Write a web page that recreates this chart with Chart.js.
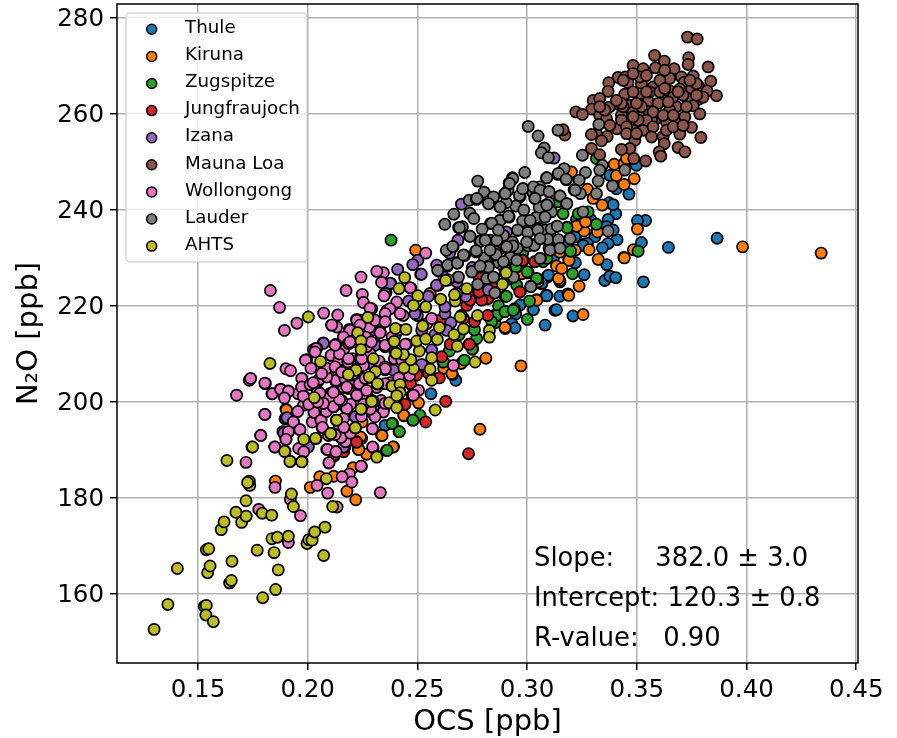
<!DOCTYPE html>
<html>
<head>
<meta charset="utf-8">
<title>OCS vs N2O</title>
<script src="https://cdn.jsdelivr.net/npm/chart.js@4"></script>
<style>
  body { margin: 0; background: #fff; }
  canvas { display: block; }
</style>
</head>
<body>
<canvas id="chart" width="897" height="738"></canvas>
<script>
// values: [OCS ppb, N2O ppb]
const thule = [[.3866,234.1],[.3644,232.2],[.353,225],[.354,237.8],[.3503,237.8],[.3521,233.2],[.3464,243.3],[.3354,225.3],[.3377,226.2],[.3404,225.9],[.3363,228.6],[.341,233.8],[.3369,233],[.3343,232.1],[.3404,239.2],[.3369,238],[.3374,241.5],[.3392,241.1],[.3088,222.2],[.3149,222],[.3096,226.2],[.3065,224.7],[.3255,232.8],[.322,234.4],[.3377,247.2],[.3407,244.4],[.3498,249.3],[.3362,236.5],[.3392,235.8],[.3309,234.4],[.3082,216],[.2968,220.2],[.3029,219.2],[.2948,218.3],[.293,216.3],[.2945,215.4],[.2675,204.5],[.2562,201.7],[.2353,195.1],[.309,226],[.309,222.2],[.3067,224.6],[.3127,219.1],[.3209,217.9],[.3186,222.5],[.315,225],[.322,229],[.326,226.5],[.3275,233],[.312,230],[.329,238],[.3225,238],[.318,233],[.3097,226.4],[.3067,224.7],[.3134,219.2],[.3089,222.1],[.3256,232.6],[.3218,234.4]];
const kiruna = [[.434,231],[.3982,232.3],[.3397,249.5],[.3442,249.7],[.3488,246.5],[.3407,247.1],[.3442,245.3],[.3342,241],[.3503,236],[.3441,230.1],[.3484,231.7],[.3319,235.6],[.326,235.6],[.3225,236.6],[.3266,237.5],[.3283,231.7],[.3324,229.7],[.319,229.5],[.3155,227.8],[.3134,228.3],[.3149,225.3],[.3237,224.1],[.319,222.2],[.3275,244.3],[.3301,242.4],[.3453,250.7],[.3202,247.9],[.2967,242.7],[.3149,231.2],[.3043,221.3],[.3255,218.2],[.2972,207.5],[.2785,194.3],[.2492,231.6],[.2812,209.1],[.29,215.3],[.266,205.7],[.2505,199.8],[.2439,197.1],[.2337,193],[.2391,190.6],[.2269,189.1],[.2231,190.1],[.2246,192.4],[.1901,198.5],[.2339,193],[.2438,197.2],[.2179,181.4],[.2219,179.6],[.2207,186.3],[.2119,184.5],[.2055,184.4],[.2012,182.2],[.1853,183.5],[.1903,198.3],[.2233,190.1],[.224,192.7],[.2389,190.6],[.2248,195.8],[.3044,221.2],[.2976,226.7],[.275,212],[.285,218],[.29,222],[.295,228],[.31,232],[.305,225],[.27,208],[.262,207],[.3143,225.7],[.3191,229.5],[.3158,227.8],[.3219,231.6],[.3181,236.4],[.2752,211],[.2558,222.6],[.2657,205.9],[.3443,230],[.3321,235.4],[.2899,215.5]];
const zugspitze = [[.238,233.7],[.3001,217.2],[.2942,219.4],[.29,218.9],[.2866,218.1],[.2854,216.5],[.277,213.2],[.2758,215.1],[.2646,210.6],[.2714,208.7],[.2616,208.3],[.2512,197.2],[.2479,196.2],[.2416,193.8],[.2387,195.5],[.236,189.9],[.3011,221],[.3048,225.6],[.3006,226.9],[.2953,224.3],[.2418,193.8],[.248,196.2],[.2362,189.9],[.2384,195.5],[.3316,237],[.3182,236.3],[.3198,231.4],[.3207,226.7],[.3043,225.7],[.3,227.1],[.3278,239.6],[.3233,239.2],[.3506,231.4],[.3164,239.2],[.3316,250.7],[.3141,241.7],[.2906,222],[.2949,228.1],[.3073,229.2],[.2829,222],[.275,211],[.287,220],[.269,214],[.312,233],[.298,231],[.306,236],[.282,225],[.291,225.5],[.2862,218],[.2839,216.7],[.276,215],[.2619,208.3],[.309,229.9],[.2899,218.8],[.2937,219.1]];
const jungfraujoch = [[.2733,189.2],[.2538,195.8],[.2629,200.1],[.2736,212],[.2968,222.9],[.2778,222.8],[.276,216.7],[.2821,221.5],[.2793,221.2],[.274,221.9],[.2467,203.8],[.2497,205.6],[.2444,199.5],[.2223,191.7],[.212,188.7],[.1897,196.5],[.2725,220.1],[.2611,209.4],[.271,217.4],[.2603,217],[.2983,229.5],[.3036,229.2],[.2223,191.6],[.2468,203.8],[.2119,188.9],[.2164,189.6],[.2967,222.9],[.2979,229.5],[.2781,222.9],[.2807,225.7],[.3035,229.2],[.265,212],[.27,218],[.278,226],[.285,225],[.29,228],[.282,218],[.255,206],[.26,205],[.268,222],[.288,232],[.2781,222.9],[.274,221.2],[.2737,212]];
const izana = [[.241,227.6],[.2502,229.5],[.2479,228.6],[.2515,226.6],[.2378,224.7],[.2357,222.8],[.2626,218.4],[.2653,216.5],[.2596,224.3],[.2588,228.5],[.2824,223.3],[.2071,212.3],[.2026,210.9],[.2307,212.2],[.252,207.8],[.2216,196.9],[.1899,196.5],[.1887,193.8],[.2003,190.6],[.217,190.6],[.2102,201.7],[.2391,206.6],[.2701,241.2],[.3123,250.8],[.2685,233.7],[.2647,231],[.2587,224.3],[.2518,226.6],[.2906,235.4],[.1906,196.7],[.1891,193.5],[.2217,196.9],[.2164,190.6],[.2103,201.7],[.2134,201],[.23,215],[.24,214],[.25,218],[.255,222],[.245,212],[.262,226],[.268,225],[.275,228],[.283,230],[.258,214],[.272,222],[.228,208],[.236,219],[.246,221],[.2626,219.8],[.2634,214.9],[.2679,222.6],[.2489,218.4],[.252,214.9],[.2565,210.8],[.2376,224.7],[.2353,222.6],[.2072,212.2],[.2307,211.8]];
const maunaLoa = [[.3731,276],[.3775,275.6],[.3581,272.2],[.3736,271.7],[.3625,271],[.3734,270.3],[.3825,269.8],[.3483,270.1],[.3529,269.4],[.3585,269.6],[.367,269.4],[.3415,267.6],[.3448,267.7],[.346,266.5],[.3372,266.5],[.3521,266.2],[.3574,265.6],[.3627,267],[.3703,267.7],[.3757,267.9],[.3716,266.6],[.3837,266.8],[.3781,265.8],[.3749,265.1],[.365,264.8],[.3369,264.7],[.3445,264.1],[.3863,263.8],[.382,264.8],[.3784,263.1],[.3731,263.2],[.362,262.8],[.3552,262.6],[.3301,262.8],[.3331,263.2],[.342,261.9],[.3468,261.8],[.3374,261.4],[.3295,261],[.3222,260.4],[.3252,259.9],[.3331,259.7],[.343,259.7],[.3544,260.6],[.3681,261.5],[.3757,261.7],[.3787,260],[.3587,259],[.3678,258.8],[.3719,259.4],[.3498,258.1],[.3362,259],[.341,256.9],[.3749,257.2],[.3172,255.6],[.3164,256.7],[.3316,255.9],[.3293,255.7],[.3365,255.3],[.3339,254.4],[.362,255.3],[.3696,255.8],[.3792,255.1],[.3491,254.5],[.3625,253.8],[.3293,252.8],[.3468,252.8],[.343,252.6],[.3688,253],[.3719,252.1],[.3602,252.1],[.3609,251.2],[.3331,251.5],[.3486,250.7],[.354,250.2],[.3514,264.2],[.3559,264.6],[.3597,262.2],[.365,260.8],[.3514,259.4],[.3567,258.7],[.3635,258.3],[.3483,260.4],[.343,258.7],[.3529,256.6],[.3635,256.6],[.3666,263.5],[.3711,263.9],[.3696,265.2],[.3605,264.6],[.3521,261.5],[.3574,260.4],[.362,259.7],[.3483,256.6],[.3438,261.5],[.3354,260.8],[.3514,267.7],[.365,267.4],[.3802,263.5],[.3772,266.3],[.3688,264.6],[.3483,264.6],
  [.343,262.2],[.3498,262.2],[.3643,262.5],[.3544,258.7],[.3453,257.3],[.3574,257.3],[.3666,257.3],[.3506,258.7],[.3605,267],[.3544,268],[.3627,269.1],[.3726,261.5],[.3772,263.9],[.3438,267],[.3483,268.4],[.3407,262.8],[.3666,259.7],[.3711,257.6],[.3331,261.5],[.3377,257.6],[.3567,255.2],[.3453,255.9],[.3627,265.3],[.3544,264.6],[.3742,267],[.3498,255.9],[.3483,259.4]];
const wollongong = [[.1676,201.4],[.1805,197.4],[.1786,193],[.1851,190.6],[.1719,187.4],[.1807,203.8],[.1734,204.5],[.1837,201.7],[.1851,182.2],[.2043,182.6],[.2091,181],[.2331,181.1],[.2245,186.6],[.219,185],[.2201,183.3],[.2157,184.4],[.2097,187.3],[.2087,190.1],[.2126,189.7],[.2298,190.5],[.1967,176.3],[.1921,179.7],[.2134,178.1],[.1777,177.6],[.1912,170.7],[.1901,192.2],[.1913,193.8],[.1964,194.2],[.1935,195.8],[.203,197.8],[.2021,195.8],[.206,196.3],[.2066,194.6],[.2152,192.6],[.2172,191.7],[.2295,194.4],[.2177,198.6],[.2119,199.1],[.2088,199],[.1956,201.7],[.1911,202.3],[.1876,202.6],[.1987,201],[.1981,199.3],[.2043,202.4],[.2119,202.1],[.2164,203],[.2198,203.3],[.2224,201.5],[.2268,202.3],[.2335,200.3],[.2347,198.6],[.1974,203.1],[.2129,204.2],[.2047,204.3],[.2476,201.4],[.1959,190.3],[.1982,189.6],
  [.2538,231],[.2345,226.9],[.2315,227.2],[.2243,226],[.2175,223.2],[.183,223.2],[.1872,219.7],[.1894,214.9],[.1951,216.4],[.2073,218.5],[.2137,218.1],[.2249,222.4],[.2337,224.9],[.2348,222.1],[.2254,220.7],[.247,223.7],[.2292,219.4],[.2109,216],[.2132,215.6],[.219,215.1],[.2223,217.2],[.2239,217],[.2281,215.5],[.233,214.6],[.2353,217],[.2406,220.8],[.2375,219.4],[.2041,211.2],[.2126,211.9],[.1995,208.8],[.1901,206.9],[.1922,206.5],[.2108,209.7],[.2143,208.5],[.2185,212.1],[.2254,207.6],[.2353,211.5],[.2353,206.7],[.1973,204.9],[.2053,204.7],[.1805,203.9],[.174,204.9],[.1839,201.7],[.1877,202.6],[.1912,202.2],[.1894,200.8],[.1973,203.1],[.198,201.2],[.2011,203.6],[.2129,204.4],[.2117,201.9],[.2198,203.3],[.2223,201.6],[.2269,202.2],[.2094,201],[.2182,205.6],[.212,199],[.2178,198.6],[.2029,197.8],[.2061,196.2],[.1935,195.8],[.1965,194.2],[.1912,193.8],[.1901,192.2],[.1805,197.4],[.1786,193],[.185,190.6],[.209,190.1],[.2129,189.6],[.2152,192.6],[.2067,194.7],[.2295,194.4],[.2296,190.6],[.2097,187.3],[.2243,186.6],[.2664,207.6],[.2505,202.4],[.2482,201.4],[.2295,200.3],[.2345,197.9],[.2353,199.7],[.2296,197.6],[.2261,201.4],
  [.2205,209],[.2235,213.5],[.2165,211],[.2075,207],[.2025,204],[.2095,205.5],[.2155,206.5],[.2205,206],[.2285,210],[.2325,208.5],[.2085,198],[.2145,195],[.2195,199.5],[.2245,197],[.2075,201],[.2005,199.5],[.1955,198],[.2275,205],[.2315,203],[.2395,209],[.2415,215],[.2435,218],[.2375,204],
  [.211,216],[.2193,214.9],[.2224,217],[.2239,216],[.2307,217],[.233,214.6],[.2284,219.5],[.2353,218.4],[.2163,213.5],[.2129,212],[.2038,211.1],[.2186,212.2],[.2269,211.5],[.199,208.7],[.2107,209.7],[.2143,208.7],[.2034,210.4],[.2183,208.3],[.2239,209],[.2353,207.3],[.2129,204.5],[.2087,205.2],[.2239,205.2],[.2353,203.8],[.2095,200.7],[.2117,199],[.2178,198.6],[.2163,196.5],[.217,204.9],[.2087,207],[.2064,205.9],[.2125,207.3],[.2186,202.8],[.2056,201.8],[.2155,200.3],[.2072,199.7],[.23,200],[.2307,196.9],[.2467,223.8],[.2421,218.4],[.2353,216.7],[.2543,216.3],[.2565,217.4],[.2353,211.8],[.2398,210.4],[.2429,208.7],[.2353,206.9],[.2205,212.5],[.2145,210],[.2265,213.5],[.229,212.5],[.2385,213.5],[.2445,212],[.2415,205],[.2465,205.5],[.2015,207],[.2045,200],[.2235,203.8],[.2285,198.5],[.2095,193],[.2195,193.5],[.2125,193.2],[.2165,194.7],[.2255,199.5],[.2145,200.5],
  [.2125,211.8],[.2193,212.5],[.2246,209],[.2262,204.9],[.2178,203.1],[.2224,201.4],[.2117,202],[.2155,206.2],[.2208,205.9],[.233,214.4],[.2186,209],[.2269,202.4]];
const lauder = [[.3005,257.4],[.305,255.4],[.3141,256.6],[.3078,252.9],[.3065,251.9],[.3097,250.9],[.3327,257.8],[.3252,251.4],[.3343,249.3],[.3445,248.3],[.3331,248.3],[.2989,247.8],[.3169,248.6],[.3266,247.8],[.3141,247.4],[.3088,246.7],[.3179,246.3],[.3237,246.2],[.2933,246.7],[.2918,245.6],[.2775,246],[.3324,246],[.3389,245],[.2804,243.7],[.2913,244.1],[.2898,243.4],[.2845,242.6],[.2982,244.4],[.3027,243.6],[.3058,244.8],[.3099,243.8],[.3149,242.9],[.3214,244.2],[.3243,243.4],[.3316,243.4],[.2736,242],[.2769,242.2],[.2822,241.7],[.2875,240.6],[.2948,240.8],[.3035,242.4],[.3085,241],[.3179,241.3],[.3255,239.6],[.3111,239.6],[.2666,239.1],[.2739,239.3],[.2757,238.2],[.2625,237],[.2688,236.3],[.2834,237.2],[.2875,237.8],[.2918,238.5],[.2982,237.6],[.304,238.4],[.3076,238.5],[.3134,236.6],[.3369,235.6],[.2739,234.5],[.2784,233.5],[.283,233.5],[.2891,234.7],[.2956,235.7],[.3005,235.4],[.3046,235.9],[.3084,235.8],[.3195,234],[.3096,233.7],[.3141,233.7],[.303,232.8],[.2933,233.3],[.2663,232.3],[.2632,231.6],[.2766,231.4],[.2857,231.3],[.2924,230.4],[.3061,229.9],[.268,229],[.2637,228.3],[.2751,227.2],[.2781,228.1],[.2822,228.3],[.2594,227.4],[.2685,226],[.2845,226],[.2936,226],[.3017,224.1],[.2853,222.7],[.2715,230.5],[.2805,230],[.287,229],[.2955,232],[.2985,240],[.2905,241.5],[.2965,243],[.31,241.5],[.3055,240.5],[.3005,232.5],[.311,236],[.2705,236.5],[.2795,236],[.2775,224.5],[.2895,228],
  [.2593,227.4],[.2638,228.5],[.2684,229],[.2768,231.2],[.2854,230.6],[.29,226.9],[.2824,228.3],[.2786,228.1],[.2748,227.1],[.2687,226],[.2641,225.4],[.2816,225.7],[.2935,246.5],[.292,245.5],[.29,243.4],[.2847,242.7],[.2771,242.4],[.309,246.7],[.3143,247.6],[.3178,246.4],[.298,244.4],[.3029,244.8],[.3059,244.1],[.31,243.8],[.315,242.9],[.3219,244.1],[.2877,240.6],[.2824,241.3],[.3036,242.4],[.309,241],[.3181,241.3],[.2877,237.8],[.2915,238.7],[.298,237.7],[.3041,238.4],[.3082,238.5],[.3138,236.6],[.2839,237.2],[.2692,236.3],[.2892,234.7],[.2957,235.8],[.3003,235.3],[.3049,235.8],[.3094,233.9],[.3143,233.8],[.3196,234],[.274,234.5],[.2789,233.5],[.2831,233.7],[.2935,232.5],[.3033,232.6],[.3105,231.6],[.2768,231.5],[.2859,230.7],[.2925,230.1],[.3059,229.9],[.2661,232.4],[.2682,228.9],[.2748,227.1],[.2824,228.1],[.2786,228.3],[.2847,226],[.2938,226],[.3017,224],[.2892,229.2],[.2953,229.5],[.315,232],[.3014,237.8],[.2809,233.7],[.2998,233.3],[.3059,234],[.2862,233.7],[.2907,232.3],[.271,230.6],[.2869,235.8],[.2831,231.6]];
const ahts = [[.13,152.6],[.1363,157.8],[.1406,165.3],[.1529,157.4],[.1538,157.6],[.1536,155.6],[.157,154.2],[.1544,164.4],[.1555,165.8],[.1538,169.2],[.1549,169.4],[.1655,166.8],[.1644,162.3],[.1652,162.8],[.1795,159.2],[.1854,160.9],[.1866,165],[.177,169.1],[.1847,168.6],[.1837,171.5],[.1862,171.8],[.1912,172],[.1997,170.5],[.2005,171.3],[.202,171.2],[.2032,172.9],[.2079,173.9],[.2073,168],[.1606,173.4],[.1619,175],[.1699,174.9],[.172,176.2],[.1673,177],[.1793,176.8],[.1836,176.4],[.1719,179.4],[.1736,182.6],[.1734,183.5],[.1726,183.2],[.1935,178.2],[.1926,180.8],[.2114,178.2],[.2085,184],[.1632,187.8],[.1746,190.6],[.1921,187.6],[.1974,187.6],[.1897,189.7],[.1982,192.2],[.2038,192.4],[.2106,193.4],[.2131,196.2],[.2217,194.6],[.2245,198.5],[.2316,188.7],[.203,200.9],[.229,200.2],[.2374,199.8],[.2407,199],[.242,202],[.2384,203.3],[.2319,203.7],
  [.2003,217.7],[.2274,217.6],[.2228,214.4],[.2243,212.7],[.2243,210.9],[.2059,208.4],[.2299,209],[.222,206.6],[.2185,205.7],[.2309,206.3],[.2281,205.2],[.2318,203.8],[.1828,208],[.2292,200.1],[.2243,198.5],[.2132,196.2],[.2217,194.6],[.2105,193.4],[.2036,192.4],[.1749,190.6],[.1895,189.7],[.1919,187.6],[.1973,187.5],[.2315,188.5],[.2372,199.8],[.2406,198.8],[.2581,198.3],[.2565,204.5],[.2558,206.8],[.2482,206.9],[.2439,207.1],[.247,208.8],[.2436,209.9],[.2403,210.1],[.2394,212.6],[.2509,210.6],[.2565,209.2],[.2497,212.7],[.2538,213.1],[.2591,213],[.24,215.3],[.2448,215.1],[.2524,215.8],[.26,215.5],[.2667,214],[.2682,211.6],[.2763,208.3],[.271,215.2],[.2695,217.7],[.2774,218],[.2828,214.9],[.2828,213.5],[.2606,221.4],[.2672,221],[.2669,222.3],[.2629,225.3],[.2725,223.6],[.2888,224.5],[.2904,226.9],[.2502,222.1],[.2482,220.1],[.2538,219.8],[.2416,223.6],[.2442,225.9],[.2386,203.3],[.2421,203.6],[.2421,201.9],[.2406,201.3]];

const siteNames = ['Thule', 'Kiruna', 'Zugspitze', 'Jungfraujoch', 'Izana', 'Mauna Loa', 'Wollongong', 'Lauder', 'AHTS'];
const siteValues = [thule, kiruna, zugspitze, jungfraujoch, izana, maunaLoa, wollongong, lauder, ahts];
const siteColors = ['#1f77b4', '#ff7f0e', '#2ca02c', '#d62728', '#9467bd', '#8c564b', '#e377c2', '#7f7f7f', '#bcbd22'];
const xTicks = [0.15, 0.20, 0.25, 0.30, 0.35, 0.40, 0.45];
const yTicks = [160, 180, 200, 220, 240, 260, 280];
const fitLines = ['Slope:     382.0 \u00b1 3.0', 'Intercept: 120.3 \u00b1 0.8', 'R-value:   0.90'];

const fontName = '"DejaVu Sans"';

// frame, legend box and the fit text go on top of the points
const overlay = {
    id: 'overlay',
    afterDatasetsDraw(chart) {
        const ctx = chart.ctx;
        const area = chart.chartArea;
        ctx.save();

        // legend
        ctx.beginPath();
        ctx.roundRect(126, 13, 181, 249, 4);
        ctx.fillStyle = 'rgba(255,255,255,0.8)';
        ctx.fill();
        ctx.strokeStyle = 'rgba(204,204,204,0.8)';
        ctx.lineWidth = 1.5;
        ctx.stroke();
        ctx.font = '18.3px ' + fontName;
        ctx.textBaseline = 'middle';
        siteNames.forEach(function(name, i) {
            const rowY = 29.3 + i * 27.1;
            ctx.beginPath();
            ctx.arc(151.7, rowY, 5, 0, Math.PI * 2);
            ctx.fillStyle = siteColors[i];
            ctx.fill();
            ctx.strokeStyle = '#000';
            ctx.lineWidth = 1.5;
            ctx.stroke();
            ctx.fillStyle = '#000';
            ctx.fillText(name, 185, rowY - 1);
        });

        // fit results
        ctx.font = '25.8px ' + fontName;
        ctx.fillStyle = '#000';
        fitLines.forEach(function(line, i) {
            ctx.fillText(line, 534, 559.5 + i * 40);
        });

        // axes frame
        ctx.strokeStyle = '#000';
        ctx.lineWidth = 1.5;
        ctx.strokeRect(area.left, area.top, area.right - area.left, area.bottom - area.top);
        ctx.restore();
    }
};

new Chart(document.getElementById('chart').getContext('2d'), {
    type: 'scatter',
    data: {
        datasets: siteNames.map(function(name, i) {
            return {
                label: name,
                data: siteValues[i].map(function(p) { return { x: p[0], y: p[1] }; }),
                backgroundColor: siteColors[i],
                borderColor: '#000',
                borderWidth: 1.7,
                pointRadius: 5.6,
                order: siteNames.length - i // later sites sit on top
            };
        })
    },
    options: {
        responsive: false,
        animation: false,
        layout: { autoPadding: false, padding: { top: 4, right: 39, left: 0, bottom: 0 } },
        plugins: {
            legend: { display: false },
            tooltip: { enabled: false }
        },
        scales: {
            x: {
                type: 'linear',
                min: 0.1131,
                max: 0.4508,
                afterBuildTicks: function(axis) {
                    axis.ticks = xTicks.map(function(v) { return { value: v }; });
                },
                afterFit: function(axis) {
                    axis.height = 75;
                    axis.paddingLeft = 0;
                    axis.paddingRight = 0;
                },
                grid: { color: '#b0b0b0', lineWidth: 1.5, tickColor: '#000', tickLength: 7, tickWidth: 1.5 },
                border: { display: false },
                ticks: {
                    color: '#000',
                    font: { family: fontName, size: 24.5 },
                    padding: 6,
                    maxRotation: 0,
                    autoSkip: false,
                    callback: function(v) { return v.toFixed(2); }
                },
                title: {
                    display: true,
                    text: 'OCS [ppb]',
                    color: '#000',
                    font: { family: fontName, size: 29, lineHeight: 1.1 },
                    padding: { top: 0, bottom: 0 }
                }
            },
            y: {
                type: 'linear',
                min: 145.6,
                max: 282.9,
                afterBuildTicks: function(axis) {
                    axis.ticks = yTicks.map(function(v) { return { value: v }; });
                },
                afterFit: function(axis) {
                    axis.width = 117;
                    axis.paddingTop = 0;
                    axis.paddingBottom = 0;
                },
                grid: { color: '#b0b0b0', lineWidth: 1.5, tickColor: '#000', tickLength: 7, tickWidth: 1.5 },
                border: { display: false },
                ticks: {
                    color: '#000',
                    font: { family: fontName, size: 24.5 },
                    padding: 6,
                    labelOffset: 2,
                    autoSkip: false,
                    callback: function(v) { return String(v); }
                },
                title: {
                    display: true,
                    text: 'N\u2082O [ppb]',
                    color: '#000',
                    font: { family: fontName, size: 29 },
                    padding: { top: 12, bottom: 0 }
                }
            }
        }
    },
    plugins: [overlay]
});
</script>
</body>
</html>
